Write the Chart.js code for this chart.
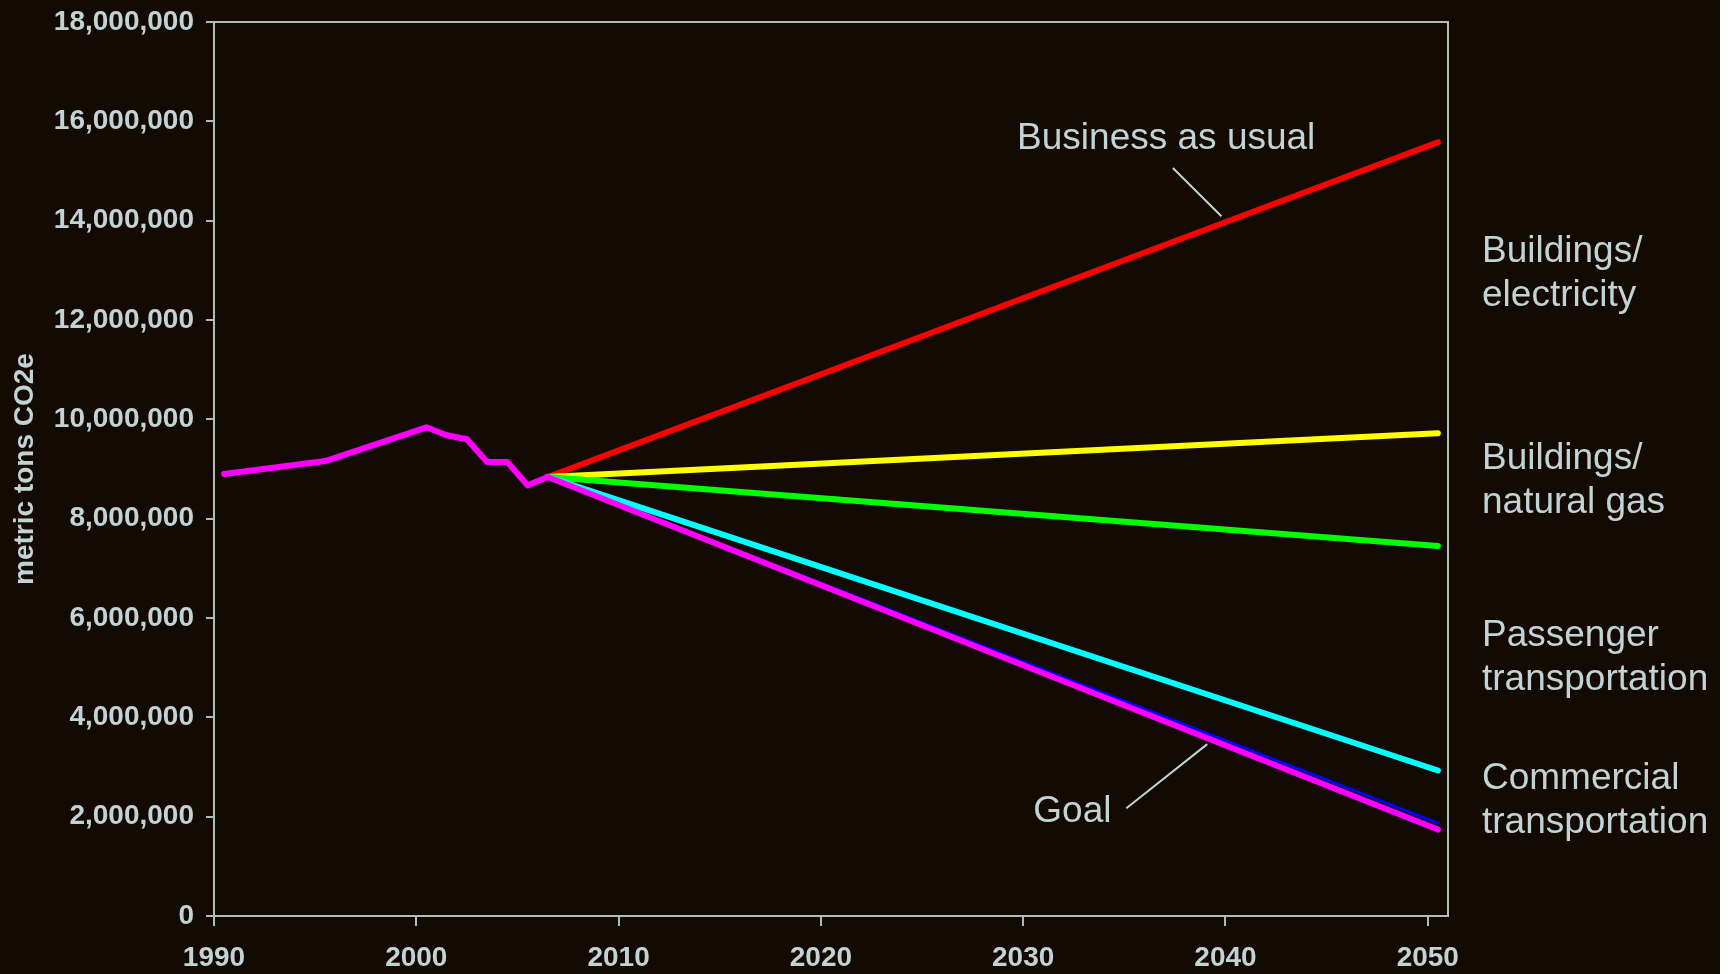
<!DOCTYPE html>
<html>
<head>
<meta charset="utf-8">
<script src="https://cdn.jsdelivr.net/npm/chart.js@4"></script>
<style>
  html, body { margin: 0; padding: 0; background: #ffffff; }
  #wrap { width: 1720px; height: 974px; background: #120a03; }
</style>
</head>
<body>
<div id="wrap"><canvas id="chart" width="1720" height="974"></canvas></div>
<script>
// historical emissions, metric tons CO2e
const histYears = [1990, 1995, 2000, 2001, 2002, 2003, 2004, 2005, 2006];
const histValues = [8900000, 9160000, 9840000, 9680000, 9600000, 9140000, 9140000, 8670000, 8840000];

// projections from 2006 to 2050
const projYears = [2006, 2050];
const bauValues = [8840000, 15580000];
const electricityValues = [8840000, 9720000];
const gasValues = [8840000, 7450000];
const passengerValues = [8840000, 2930000];
const commercialValues = [8840000, 1870000];
const goalValues = [8840000, 1740000];

const tickYears = [1990, 2000, 2010, 2020, 2030, 2040, 2050];
const yTicks = [0, 2000000, 4000000, 6000000, 8000000, 10000000, 12000000, 14000000, 16000000, 18000000];

const sideLabels = [
  ['Buildings/', 'electricity'],
  ['Buildings/', 'natural gas'],
  ['Passenger', 'transportation'],
  ['Commercial', 'transportation']
];

const TEXT = '#c3d3d5';
const AXIS = '#aebcbc';
const FONT = '"Liberation Sans", Arial, sans-serif';

const pts = (xs, ys) => xs.map((x, i) => ({ x, y: ys[i] }));

function line(data, color, width, order) {
  return {
    data, borderColor: color, borderWidth: width, pointRadius: 0,
    borderCapStyle: 'round', borderJoinStyle: 'round', tension: 0, order
  };
}

const decorations = {
  id: 'decorations',
  afterDraw(chart) {
    const { ctx, chartArea: a, scales: { x, y } } = chart;
    ctx.save();
    // box round the plot
    ctx.strokeStyle = AXIS;
    ctx.lineWidth = 2;
    ctx.strokeRect(a.left, a.top, a.right - a.left, a.bottom - a.top);

    ctx.fillStyle = TEXT;
    ctx.font = '37px ' + FONT;
    ctx.textBaseline = 'alphabetic';
    ctx.textAlign = 'left';
    ctx.fillText('Business as usual', x.getPixelForValue(2029.2), y.getPixelForValue(15440000));
    ctx.fillText('Goal', x.getPixelForValue(2030.0), y.getPixelForValue(1890000));

    ctx.strokeStyle = TEXT;
    ctx.lineWidth = 2;
    ctx.beginPath();
    ctx.moveTo(x.getPixelForValue(2036.9), y.getPixelForValue(15060000));
    ctx.lineTo(x.getPixelForValue(2039.3), y.getPixelForValue(14090000));
    ctx.moveTo(x.getPixelForValue(2034.6), y.getPixelForValue(2170000));
    ctx.lineTo(x.getPixelForValue(2038.6), y.getPixelForValue(3460000));
    ctx.stroke();

    const baselines = [262, 469, 646, 789];
    sideLabels.forEach((lines, i) => {
      lines.forEach((t, j) => ctx.fillText(t, a.right + 34, baselines[i] + j * 44));
    });
    ctx.restore();
  }
};

new Chart(document.getElementById('chart'), {
  type: 'line',
  data: {
    datasets: [
      line(pts(histYears, histValues), '#ff00ff', 6, 0),
      line(pts(projYears, goalValues), '#ff00ff', 6, 1),
      line(pts(projYears, commercialValues), '#0000ff', 3, 2),
      line(pts(projYears, passengerValues), '#00ffff', 6, 3),
      line(pts(projYears, gasValues), '#00ff00', 6, 4),
      line(pts(projYears, electricityValues), '#ffff00', 6, 5),
      line(pts(projYears, bauValues), '#ff0000', 6, 6)
    ]
  },
  options: {
    responsive: false,
    animation: false,
    layout: { padding: { top: 22, right: 272, left: 0, bottom: 0 } },
    plugins: { legend: { display: false }, tooltip: { enabled: false } },
    scales: {
      x: {
        type: 'linear',
        min: 1989.5,
        max: 2050.5,
        afterBuildTicks: s => { s.ticks = tickYears.map(v => ({ value: v - 0.5 })); },
        afterFit: s => { s.height = 58; s.paddingLeft = 0; s.paddingRight = 0; },
        border: { color: AXIS, width: 2 },
        grid: { drawOnChartArea: false, color: AXIS, lineWidth: 2, tickLength: 10 },
        ticks: {
          color: TEXT, padding: 15, maxRotation: 0,
          font: { family: FONT, size: 28, weight: 'bold' },
          callback: v => String(v + 0.5)
        }
      },
      y: {
        min: 0,
        max: 18000000,
        afterBuildTicks: s => { s.ticks = yTicks.map(v => ({ value: v })); },
        afterFit: s => { s.width = 214; s.paddingTop = 0; s.paddingBottom = 0; },
        border: { color: AXIS, width: 2 },
        grid: { drawOnChartArea: false, color: AXIS, lineWidth: 2, tickLength: 8 },
        title: {
          display: true, text: 'metric tons CO2e', color: TEXT, padding: { top: 8, bottom: 0 },
          font: { family: FONT, size: 28, weight: 'bold' }
        },
        ticks: {
          color: TEXT, padding: 12,
          font: { family: FONT, size: 28, weight: 'bold' },
          callback: v => v.toLocaleString('en-US')
        }
      }
    }
  },
  plugins: [decorations]
});
</script>
</body>
</html>
